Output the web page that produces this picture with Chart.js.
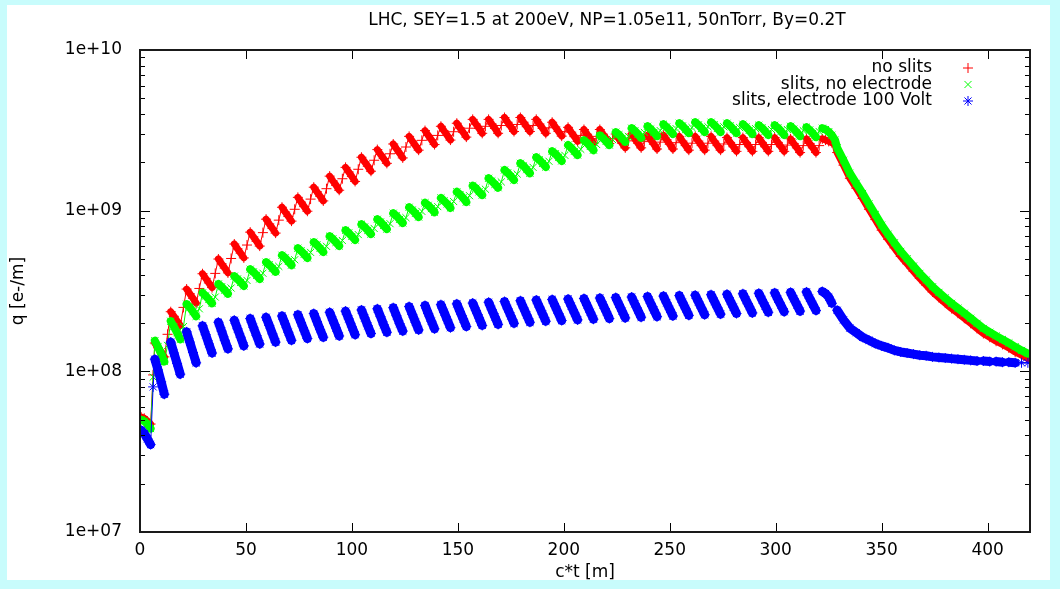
<!DOCTYPE html>
<html>
<head>
<meta charset="utf-8">
<title>LHC electron cloud</title>
<script src="https://cdn.jsdelivr.net/npm/chart.js@4.4.0/dist/chart.umd.min.js"></script>
<style>
  html, body { margin: 0; padding: 0; background: #c8fcfc; }
  canvas { display: block; }
</style>
</head>
<body>
<canvas id="cloudChart" width="1060" height="589"></canvas>
<script>
// position along the train c*t [m]
const ctX = [
  0.5, 2, 3.5, 5, 6.2,
  7, 8.5, 10, 11.5, 13,
  14.5, 16, 17.5, 19, 20.5,
  22, 23.5, 25, 26.5, 28,
  29.5, 31, 32.5, 34, 35.5,
  37, 38.5, 40, 41.5, 43,
  44.5, 46, 47.5, 49, 50.5,
  52, 53.5, 55, 56.5, 58,
  59.5, 61, 62.5, 64, 65.5,
  67, 68.5, 70, 71.5, 73,
  74.5, 76, 77.5, 79, 80.5,
  82, 83.5, 85, 86.5, 88,
  89.5, 91, 92.5, 94, 95.5,
  97, 98.5, 100, 101.5, 103,
  104.5, 106, 107.5, 109, 110.5,
  112, 113.5, 115, 116.5, 118,
  119.5, 121, 122.5, 124, 125.5,
  127, 128.5, 130, 131.5, 133,
  134.5, 136, 137.5, 139, 140.5,
  142, 143.5, 145, 146.5, 148,
  149.5, 151, 152.5, 154, 155.5,
  157, 158.5, 160, 161.5, 163,
  164.5, 166, 167.5, 169, 170.5,
  172, 173.5, 175, 176.5, 178,
  179.5, 181, 182.5, 184, 185.5,
  187, 188.5, 190, 191.5, 193,
  194.5, 196, 197.5, 199, 200.5,
  202, 203.5, 205, 206.5, 208,
  209.5, 211, 212.5, 214, 215.5,
  217, 218.5, 220, 221.5, 223,
  224.5, 226, 227.5, 229, 230.5,
  232, 233.5, 235, 236.5, 238,
  239.5, 241, 242.5, 244, 245.5,
  247, 248.5, 250, 251.5, 253,
  254.5, 256, 257.5, 259, 260.5,
  262, 263.5, 265, 266.5, 268,
  269.5, 271, 272.5, 274, 275.5,
  277, 278.5, 280, 281.5, 283,
  284.5, 286, 287.5, 289, 290.5,
  292, 293.5, 295, 296.5, 298,
  299.5, 301, 302.5, 304, 305.5,
  307, 308.5, 310, 311.5, 313,
  314.5, 316, 317.5, 319, 320.5,
  322, 323.5, 325, 326.5, 328,
  329, 332, 335, 338, 341, 344, 347, 350, 353, 356, 359, 362, 365, 368, 371,
  374, 377, 380, 383, 386, 389, 392, 395, 398, 401, 404, 407, 410, 413, 416, 419
];

// q [e-/m], no slits
const qNoSlits = [
  5.2e7, 5.1e7, 4.9e7, 4.7e7, 9.5e7,
  1.5e8, 1.4e8, 1.32e8, 1.23e8, 1.7e8,
  2.35e8, 2.2e8, 2.06e8, 1.93e8, 2.5e8,
  3.25e8, 3.04e8, 2.85e8, 2.66e8, 3.28e8,
  4.05e8, 3.79e8, 3.55e8, 3.32e8, 4.07e8,
  5.0e8, 4.67e8, 4.39e8, 4.1e8, 5.04e8,
  6.2e8, 5.79e8, 5.44e8, 5.08e8, 6.11e8,
  7.35e8, 6.87e8, 6.45e8, 6.02e8, 7.3e8,
  8.85e8, 8.27e8, 7.76e8, 7.25e8, 8.73e8,
  1.05e9, 9.81e8, 9.21e8, 8.61e8, 1.02e9,
  1.21e9, 1.13e9, 1.06e9, 9.92e8, 1.18e9,
  1.4e9, 1.31e9, 1.23e9, 1.15e9, 1.37e9,
  1.64e9, 1.53e9, 1.44e9, 1.34e9, 1.58e9,
  1.86e9, 1.74e9, 1.63e9, 1.52e9, 1.81e9,
  2.15e9, 2.01e9, 1.89e9, 1.76e9, 2.06e9,
  2.4e9, 2.24e9, 2.11e9, 1.97e9, 2.26e9,
  2.6e9, 2.43e9, 2.28e9, 2.13e9, 2.49e9,
  2.9e9, 2.71e9, 2.54e9, 2.38e9, 2.74e9,
  3.15e9, 2.94e9, 2.76e9, 2.58e9, 2.94e9,
  3.35e9, 3.13e9, 2.94e9, 2.75e9, 3.1e9,
  3.5e9, 3.27e9, 3.07e9, 2.87e9, 3.26e9,
  3.7e9, 3.46e9, 3.25e9, 3.03e9, 3.35e9,
  3.7e9, 3.46e9, 3.25e9, 3.03e9, 3.39e9,
  3.8e9, 3.55e9, 3.33e9, 3.11e9, 3.44e9,
  3.8e9, 3.55e9, 3.33e9, 3.11e9, 3.39e9,
  3.7e9, 3.46e9, 3.25e9, 3.03e9, 3.28e9,
  3.55e9, 3.32e9, 3.11e9, 2.91e9, 3.1e9,
  3.3e9, 3.08e9, 2.89e9, 2.7e9, 2.94e9,
  3.2e9, 2.99e9, 2.81e9, 2.62e9, 2.9e9,
  3.2e9, 2.99e9, 2.81e9, 2.62e9, 2.8e9,
  3.0e9, 2.8e9, 2.63e9, 2.46e9, 2.72e9,
  3.0e9, 2.8e9, 2.63e9, 2.46e9, 2.69e9,
  2.95e9, 2.76e9, 2.59e9, 2.42e9, 2.67e9,
  2.95e9, 2.76e9, 2.59e9, 2.42e9, 2.65e9,
  2.9e9, 2.71e9, 2.54e9, 2.38e9, 2.63e9,
  2.9e9, 2.71e9, 2.54e9, 2.38e9, 2.63e9,
  2.9e9, 2.71e9, 2.54e9, 2.38e9, 2.6e9,
  2.85e9, 2.66e9, 2.5e9, 2.34e9, 2.58e9,
  2.85e9, 2.66e9, 2.5e9, 2.34e9, 2.58e9,
  2.85e9, 2.66e9, 2.5e9, 2.34e9, 2.58e9,
  2.85e9, 2.66e9, 2.5e9, 2.34e9, 2.56e9,
  2.8e9, 2.62e9, 2.46e9, 2.3e9, 2.54e9,
  2.8e9, 2.62e9, 2.46e9, 2.3e9, 2.54e9,
  2.8e9, 2.75e9, 2.7e9, 2.65e9, 2.6e9,
  2.3e9, 1.92e9, 1.59e9, 1.38e9, 1.19e9, 1.02e9, 8.8e8, 7.56e8, 6.64e8, 5.87e8,
  5.19e8, 4.67e8, 4.2e8, 3.79e8, 3.44e8, 3.12e8, 2.88e8, 2.66e8, 2.46e8, 2.3e8,
  2.14e8, 1.99e8, 1.85e8, 1.72e8, 1.63e8, 1.54e8, 1.47e8, 1.4e8, 1.32e8, 1.26e8, 1.2e8
];

// q [e-/m], slits, no electrode
const qSlits = [
  5.0e7, 4.9e7, 4.7e7, 4.4e7, 9.2e7,
  1.55e8, 1.42e8, 1.28e8, 1.15e8, 1.45e8,
  2.05e8, 1.9e8, 1.74e8, 1.58e8, 1.9e8,
  2.62e8, 2.5e8, 2.35e8, 2.2e8, 2.45e8,
  3.08e8, 2.95e8, 2.8e8, 2.65e8, 2.9e8,
  3.5e8, 3.36e8, 3.2e8, 3.04e8, 3.3e8,
  3.91e8, 3.76e8, 3.58e8, 3.4e8, 3.68e8,
  4.32e8, 4.16e8, 3.96e8, 3.76e8, 4.08e8,
  4.78e8, 4.6e8, 4.38e8, 4.16e8, 4.5e8,
  5.28e8, 5.08e8, 4.83e8, 4.58e8, 4.95e8,
  5.84e8, 5.62e8, 5.35e8, 5.08e8, 5.5e8,
  6.37e8, 6.13e8, 5.83e8, 5.53e8, 6.0e8,
  6.93e8, 6.67e8, 6.35e8, 6.03e8, 6.52e8,
  7.55e8, 7.27e8, 6.92e8, 6.57e8, 7.1e8,
  8.23e8, 7.92e8, 7.54e8, 7.15e8, 7.75e8,
  8.84e8, 8.51e8, 8.09e8, 7.68e8, 8.3e8,
  9.64e8, 9.28e8, 8.83e8, 8.38e8, 9.05e8,
  1.05e9, 1.01e9, 9.62e8, 9.13e8, 9.9e8,
  1.12e9, 1.08e9, 1.03e9, 9.77e8, 1.06e9,
  1.2e9, 1.15e9, 1.1e9, 1.04e9, 1.14e9,
  1.31e9, 1.26e9, 1.2e9, 1.13e9, 1.24e9,
  1.43e9, 1.38e9, 1.31e9, 1.25e9, 1.36e9,
  1.59e9, 1.53e9, 1.46e9, 1.39e9, 1.51e9,
  1.79e9, 1.72e9, 1.64e9, 1.55e9, 1.69e9,
  1.97e9, 1.9e9, 1.8e9, 1.71e9, 1.86e9,
  2.15e9, 2.07e9, 1.97e9, 1.87e9, 2.03e9,
  2.34e9, 2.26e9, 2.15e9, 2.04e9, 2.21e9,
  2.56e9, 2.46e9, 2.34e9, 2.22e9, 2.41e9,
  2.74e9, 2.64e9, 2.51e9, 2.38e9, 2.58e9,
  2.94e9, 2.83e9, 2.7e9, 2.56e9, 2.77e9,
  3.08e9, 2.97e9, 2.82e9, 2.68e9, 2.9e9,
  3.26e9, 3.14e9, 2.99e9, 2.84e9, 3.07e9,
  3.35e9, 3.22e9, 3.07e9, 2.91e9, 3.15e9,
  3.45e9, 3.32e9, 3.16e9, 3.0e9, 3.24e9,
  3.5e9, 3.37e9, 3.2e9, 3.04e9, 3.29e9,
  3.55e9, 3.42e9, 3.25e9, 3.09e9, 3.33e9,
  3.55e9, 3.42e9, 3.25e9, 3.09e9, 3.33e9,
  3.5e9, 3.37e9, 3.2e9, 3.04e9, 3.29e9,
  3.45e9, 3.32e9, 3.16e9, 3.0e9, 3.24e9,
  3.4e9, 3.28e9, 3.12e9, 2.96e9, 3.2e9,
  3.4e9, 3.28e9, 3.12e9, 2.96e9, 3.2e9,
  3.35e9, 3.22e9, 3.07e9, 2.91e9, 3.15e9,
  3.31e9, 3.18e9, 3.03e9, 2.87e9, 3.11e9,
  3.26e9, 3.2e9, 3.1e9, 2.95e9, 2.75e9,
  2.46e9, 2.06e9, 1.71e9, 1.48e9, 1.28e9, 1.1e9, 9.46e8, 8.13e8, 7.14e8, 6.31e8,
  5.58e8, 5.02e8, 4.52e8, 4.07e8, 3.7e8, 3.36e8, 3.1e8, 2.86e8, 2.65e8, 2.47e8,
  2.3e8, 2.14e8, 1.99e8, 1.85e8, 1.75e8, 1.66e8, 1.58e8, 1.5e8, 1.42e8, 1.35e8, 1.29e8
];

// q [e-/m], slits, electrode 100 Volt
const qElectrode = [
  4.3e7, 4.1e7, 3.8e7, 3.5e7, 8.0e7,
  1.19e8, 1.02e8, 8.6e7, 7.2e7, null,
  1.52e8, 1.3e8, 1.12e8, 9.6e7, null,
  1.76e8, 1.52e8, 1.31e8, 1.13e8, null,
  1.92e8, 1.69e8, 1.48e8, 1.3e8, null,
  2.02e8, 1.78e8, 1.56e8, 1.38e8, null,
  2.08e8, 1.84e8, 1.63e8, 1.44e8, null,
  2.13e8, 1.88e8, 1.67e8, 1.48e8, null,
  2.17e8, 1.93e8, 1.71e8, 1.52e8, null,
  2.21e8, 1.97e8, 1.75e8, 1.56e8, null,
  2.25e8, 2.01e8, 1.79e8, 1.6e8, null,
  2.29e8, 2.04e8, 1.82e8, 1.63e8, null,
  2.33e8, 2.08e8, 1.86e8, 1.66e8, null,
  2.37e8, 2.12e8, 1.89e8, 1.69e8, null,
  2.41e8, 2.15e8, 1.92e8, 1.72e8, null,
  2.45e8, 2.19e8, 1.95e8, 1.75e8, null,
  2.49e8, 2.22e8, 1.98e8, 1.78e8, null,
  2.53e8, 2.26e8, 2.02e8, 1.81e8, null,
  2.57e8, 2.29e8, 2.05e8, 1.84e8, null,
  2.6e8, 2.33e8, 2.09e8, 1.87e8, null,
  2.63e8, 2.36e8, 2.12e8, 1.9e8, null,
  2.66e8, 2.39e8, 2.15e8, 1.93e8, null,
  2.69e8, 2.42e8, 2.18e8, 1.96e8, null,
  2.72e8, 2.45e8, 2.21e8, 1.99e8, null,
  2.75e8, 2.48e8, 2.24e8, 2.02e8, null,
  2.78e8, 2.51e8, 2.27e8, 2.05e8, null,
  2.8e8, 2.53e8, 2.29e8, 2.07e8, null,
  2.82e8, 2.55e8, 2.31e8, 2.09e8, null,
  2.84e8, 2.57e8, 2.33e8, 2.11e8, null,
  2.86e8, 2.59e8, 2.35e8, 2.13e8, null,
  2.88e8, 2.61e8, 2.37e8, 2.15e8, null,
  2.9e8, 2.63e8, 2.39e8, 2.17e8, null,
  2.92e8, 2.65e8, 2.41e8, 2.19e8, null,
  2.94e8, 2.67e8, 2.43e8, 2.21e8, null,
  2.96e8, 2.69e8, 2.45e8, 2.23e8, null,
  2.98e8, 2.71e8, 2.47e8, 2.25e8, null,
  3.0e8, 2.73e8, 2.49e8, 2.27e8, null,
  3.02e8, 2.75e8, 2.51e8, 2.29e8, null,
  3.04e8, 2.77e8, 2.53e8, 2.31e8, null,
  3.06e8, 2.79e8, 2.55e8, 2.33e8, null,
  3.08e8, 2.81e8, 2.57e8, 2.35e8, null,
  3.1e8, 2.83e8, 2.59e8, 2.37e8, null,
  3.12e8, 2.85e8, 2.61e8, 2.39e8, null,
  3.14e8, 3.05e8, 2.9e8, 2.65e8, null,
  2.4e8, 2.09e8, 1.86e8, 1.74e8, 1.63e8, 1.56e8, 1.49e8, 1.44e8, 1.4e8, 1.35e8,
  1.32e8, 1.3e8, 1.28e8, 1.26e8, 1.25e8, 1.23e8, 1.22e8, 1.21e8, 1.2e8, 1.19e8,
  1.18e8, 1.17e8, 1.16e8, 1.16e8, 1.15e8, 1.15e8, 1.14e8, 1.14e8, 1.13e8, 1.13e8, 1.13e8
];

const seriesNames = ['no slits', 'slits, no electrode', 'slits, electrode 100 Volt'];
const yTicks = [1e7, 1e8, 1e9, 1e10];
const plotTitle = 'LHC, SEY=1.5 at 200eV, NP=1.05e11, 50nTorr, By=0.2T';

const FONT = '"DejaVu Sans", Verdana, sans-serif';

function pts(ys) {
  return ctX.map((x, i) => ({ x: x, y: ys[i] }));
}

// falling part of each bunch slot is drawn heavy, the jump back up thin
function slotWidth(heavy) {
  return c => (c.p1.parsed.y < c.p0.parsed.y ? heavy : 1);
}

// cyan page with white sheet, title on top
const sheet = {
  id: 'sheet',
  beforeDraw(chart) {
    const ctx = chart.ctx;
    ctx.save();
    ctx.fillStyle = '#c8fcfc';
    ctx.fillRect(0, 0, chart.width, chart.height);
    ctx.fillStyle = '#ffffff';
    ctx.fillRect(7, 5, 1043, 575);
    ctx.fillStyle = '#000';
    ctx.font = '17px ' + FONT;
    ctx.textAlign = 'center';
    ctx.textBaseline = 'middle';
    ctx.fillText(plotTitle, 607, 21);
    ctx.restore();
  }
};

// gnuplot style box with inward ticks on all four sides
const frame = {
  id: 'frame',
  afterDraw(chart) {
    const { ctx, chartArea: a, scales: { x, y } } = chart;
    ctx.save();
    ctx.strokeStyle = '#000';
    ctx.lineWidth = 1;
    ctx.beginPath();
    x.ticks.forEach(t => {
      const px = Math.round(x.getPixelForValue(t.value)) + 0.5;
      ctx.moveTo(px, a.bottom); ctx.lineTo(px, a.bottom - 9);
      ctx.moveTo(px, a.top); ctx.lineTo(px, a.top + 9);
    });
    yTicks.forEach((d, k) => {
      for (let m = 1; m <= 9; m++) {
        if (k === yTicks.length - 1 && m > 1) break;
        const py = Math.round(y.getPixelForValue(d * m)) + 0.5;
        const len = m === 1 ? 10 : 5;
        ctx.moveTo(a.left, py); ctx.lineTo(a.left + len, py);
        ctx.moveTo(a.right, py); ctx.lineTo(a.right - len, py);
      }
    });
    ctx.stroke();
    ctx.lineWidth = 2;
    ctx.strokeStyle = '#1a1a1a';
    ctx.strokeRect(a.left, a.top, a.right - a.left, a.bottom - a.top);
    ctx.restore();
  }
};

// key in the top right corner: text, then marker
const key = {
  id: 'key',
  afterDraw(chart) {
    const { ctx, chartArea: a } = chart;
    ctx.save();
    ctx.font = '17px ' + FONT;
    ctx.textAlign = 'right';
    ctx.textBaseline = 'middle';
    chart.data.datasets.forEach((ds, i) => {
      const yy = a.top + 18 + i * 16.5;
      ctx.fillStyle = '#000';
      ctx.fillText(ds.label, a.right - 98, yy);
      ctx.strokeStyle = ds.borderColor;
      ctx.fillStyle = ds.borderColor;
      ctx.lineWidth = 1;
      Chart.helpers.drawPoint(ctx, { pointStyle: ds.pointStyle, radius: 5, borderWidth: 1, rotation: 0 }, a.right - 62, yy);
    });
    ctx.restore();
  }
};

Chart.defaults.font.family = FONT;
Chart.defaults.font.size = 17;
Chart.defaults.color = '#000';

new Chart(document.getElementById('cloudChart'), {
  type: 'scatter',
  data: {
    datasets: [
      { label: seriesNames[0], data: pts(qNoSlits), pointStyle: 'cross', borderColor: '#ff0000', backgroundColor: '#ff0000',
        showLine: true, segment: { borderWidth: slotWidth(7) }, order: 3 },
      { label: seriesNames[1], data: pts(qSlits), pointStyle: 'crossRot', borderColor: '#00ff00', backgroundColor: '#00ff00',
        showLine: true, segment: { borderWidth: slotWidth(8) }, order: 2 },
      { label: seriesNames[2], data: pts(qElectrode), pointStyle: 'star', borderColor: '#0000ff', backgroundColor: '#0000ff',
        showLine: true, segment: { borderWidth: slotWidth(9) }, order: 1 }
    ]
  },
  options: {
    responsive: false,
    animation: false,
    devicePixelRatio: 1,
    events: [],
    elements: {
      point: { radius: 5, borderWidth: 1 },
      line: { borderWidth: 1, tension: 0, borderJoinStyle: 'round', borderCapStyle: 'round' }
    },
    layout: { padding: { left: 8, right: 30, top: 50, bottom: 6 } },
    plugins: {
      legend: { display: false },
      tooltip: { enabled: false },
      title: { display: false }
    },
    scales: {
      x: {
        type: 'linear',
        min: 0,
        max: 420,
        grid: { display: false, drawTicks: false },
        border: { display: false },
        ticks: { stepSize: 50, includeBounds: false, padding: 8, maxRotation: 0 },
        title: { display: true, text: 'c*t [m]', padding: 0 },
        afterFit: s => { s.height = 51; }
      },
      y: {
        type: 'logarithmic',
        min: 1e7,
        max: 1e10,
        grid: { display: false, drawTicks: false },
        border: { display: false },
        afterBuildTicks: s => { s.ticks = yTicks.map(v => ({ value: v })); },
        ticks: {
          padding: 18,
          callback: v => '1e+' + String(Math.round(Math.log10(v))).padStart(2, '0')
        },
        title: { display: true, text: 'q [e-/m]', padding: 0 },
        afterFit: s => { s.width = 132; }
      }
    }
  },
  plugins: [sheet, frame, key]
});
</script>
</body>
</html>
